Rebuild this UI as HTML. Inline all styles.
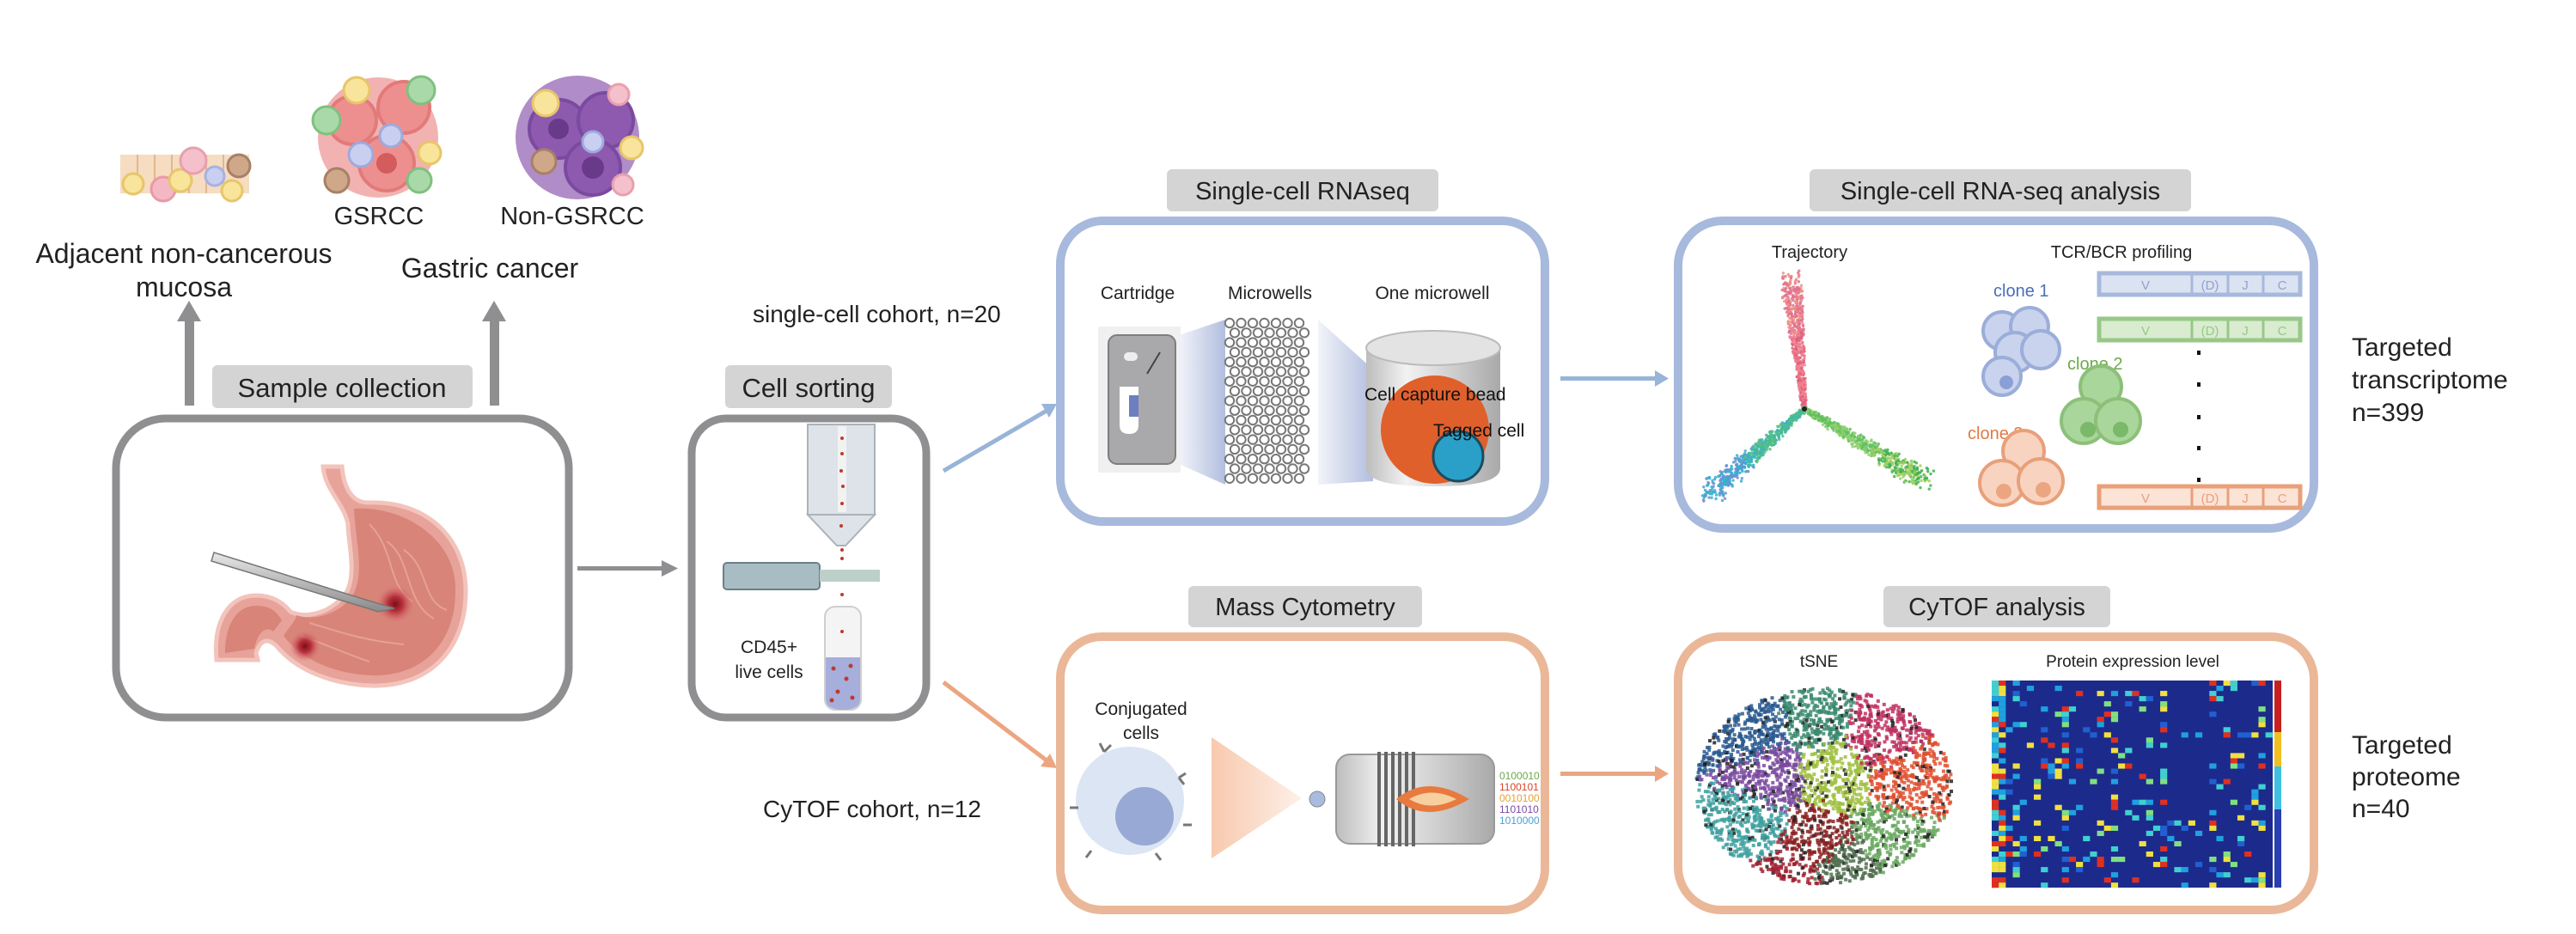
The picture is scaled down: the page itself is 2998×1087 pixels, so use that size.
<!DOCTYPE html>
<html><head><meta charset="utf-8">
<style>
html,body{margin:0;padding:0;background:#fff;}
svg{display:block;}
text{font-family:"Liberation Sans",Arial,sans-serif;}
</style></head>
<body>
<svg id="s" width="2998" height="1087" viewBox="0 0 2998 1087" xmlns="http://www.w3.org/2000/svg">
<defs>
<linearGradient id="metal" x1="0" y1="0" x2="0" y2="1"><stop offset="0" stop-color="#e8e8e8"/><stop offset="0.5" stop-color="#b9b9b9"/><stop offset="1" stop-color="#8a8a8a"/></linearGradient>
<linearGradient id="cyl" x1="0" y1="0" x2="1" y2="0"><stop offset="0" stop-color="#bdbdbd"/><stop offset="0.3" stop-color="#f2f2f2"/><stop offset="1" stop-color="#a9a9a9"/></linearGradient>
<linearGradient id="fun" x1="0" y1="0" x2="1" y2="0"><stop offset="0" stop-color="#f8c9ae"/><stop offset="1" stop-color="#fdf0e8"/></linearGradient>
<linearGradient id="funb" x1="1" y1="0" x2="0" y2="0"><stop offset="0" stop-color="#9eaed6"/><stop offset="1" stop-color="#eef1f8"/></linearGradient>
<radialGradient id="les"><stop offset="0" stop-color="#7a0f1a"/><stop offset="0.4" stop-color="#b8303a"/><stop offset="1" stop-color="#d8757a" stop-opacity="0"/></radialGradient>
</defs>

<g>
 <rect x="140" y="180" width="150" height="45" fill="#f6dcc0"/>
 <g stroke="#e0b890" stroke-width="2"><line x1="160" y1="180" x2="160" y2="225"/><line x1="180" y1="180" x2="180" y2="225"/><line x1="200" y1="180" x2="200" y2="225"/><line x1="220" y1="180" x2="220" y2="225"/><line x1="240" y1="180" x2="240" y2="225"/><line x1="260" y1="180" x2="260" y2="225"/></g>
 <circle cx="155" cy="214" r="12" fill="#f8e49a" stroke="#e7c66a" stroke-width="3"/>
 <circle cx="190" cy="220" r="14" fill="#f4b8c4" stroke="#e89aa8" stroke-width="3"/>
 <circle cx="210" cy="210" r="13" fill="#f8e49a" stroke="#e7c66a" stroke-width="3"/>
 <circle cx="225" cy="187" r="15" fill="#f4c0cc" stroke="#e8a0ae" stroke-width="3"/>
 <circle cx="250" cy="205" r="11" fill="#c8cff0" stroke="#a8b2e0" stroke-width="3"/>
 <circle cx="278" cy="193" r="13" fill="#cfa88a" stroke="#a88066" stroke-width="3"/>
 <circle cx="270" cy="222" r="12" fill="#f8e49a" stroke="#e7c66a" stroke-width="3"/>
</g>
<g>
 <circle cx="440" cy="160" r="70" fill="#f2b2b2"/>
 <circle cx="410" cy="140" r="28" fill="#ee8f8f" stroke="#e27a7a" stroke-width="4"/>
 <circle cx="470" cy="125" r="30" fill="#ee8f8f" stroke="#e27a7a" stroke-width="4"/>
 <circle cx="450" cy="190" r="32" fill="#ee8f8f" stroke="#e27a7a" stroke-width="4"/>
 <circle cx="450" cy="190" r="12" fill="#d45c5c"/>
 <circle cx="380" cy="140" r="16" fill="#a9d9a9" stroke="#80c080" stroke-width="3"/>
 <circle cx="490" cy="105" r="16" fill="#a9d9a9" stroke="#80c080" stroke-width="3"/>
 <circle cx="415" cy="105" r="15" fill="#f8e49a" stroke="#e7c66a" stroke-width="3"/>
 <circle cx="500" cy="178" r="13" fill="#f8e49a" stroke="#e7c66a" stroke-width="3"/>
 <circle cx="420" cy="180" r="14" fill="#c8cff0" stroke="#9fa9dc" stroke-width="3"/>
 <circle cx="455" cy="158" r="13" fill="#c8cff0" stroke="#9fa9dc" stroke-width="3"/>
 <circle cx="392" cy="210" r="14" fill="#cfa88a" stroke="#a88066" stroke-width="3"/>
 <circle cx="488" cy="210" r="14" fill="#a9d9a9" stroke="#80c080" stroke-width="3"/>
</g>
<g>
 <circle cx="672" cy="160" r="72" fill="#b08cc8"/>
 <circle cx="650" cy="150" r="34" fill="#8d5ab0" stroke="#7a4aa0" stroke-width="4"/>
 <circle cx="705" cy="140" r="32" fill="#8d5ab0" stroke="#7a4aa0" stroke-width="4"/>
 <circle cx="690" cy="195" r="32" fill="#8d5ab0" stroke="#7a4aa0" stroke-width="4"/>
 <circle cx="690" cy="195" r="13" fill="#6a3a8a"/>
 <circle cx="650" cy="150" r="12" fill="#6a3a8a"/>
 <circle cx="635" cy="120" r="15" fill="#f8e49a" stroke="#e7c66a" stroke-width="3"/>
 <circle cx="735" cy="172" r="13" fill="#f8e49a" stroke="#e7c66a" stroke-width="3"/>
 <circle cx="690" cy="165" r="12" fill="#c8cff0" stroke="#9fa9dc" stroke-width="3"/>
 <circle cx="633" cy="188" r="14" fill="#cfa88a" stroke="#a88066" stroke-width="3"/>
 <circle cx="720" cy="110" r="12" fill="#f4c0cc" stroke="#e8a0ae" stroke-width="3"/>
 <circle cx="725" cy="215" r="12" fill="#f4c0cc" stroke="#e8a0ae" stroke-width="3"/>
</g>
<text x="441" y="261" font-size="29" text-anchor="middle" fill="#222">GSRCC</text>
<text x="666" y="261" font-size="29" text-anchor="middle" fill="#222">Non-GSRCC</text>
<text x="214" y="306" font-size="32" text-anchor="middle" fill="#222">Adjacent non-cancerous</text>
<text x="214" y="345" font-size="32" text-anchor="middle" fill="#222">mucosa</text>
<text x="570" y="323" font-size="32" text-anchor="middle" fill="#222">Gastric cancer</text>

<g fill="#8f8e90">
 <rect x="215" y="372" width="11" height="100"/><polygon points="206,374 220,350 234,374"/>
 <rect x="570" y="372" width="11" height="100"/><polygon points="561,374 575,350 589,374"/>
</g>

<rect x="135" y="487" width="527" height="348" rx="58" fill="#fff" stroke="#8f8e90" stroke-width="9"/>
<rect x="247" y="425" width="303" height="50" rx="6" fill="#d4d4d5"/>
<text x="398" y="462" font-size="31" text-anchor="middle" fill="#222">Sample collection</text>
<g>
 <path d="M376,543 L398,543 C400,568 410,585 428,585 C495,582 542,625 542,688 C542,760 495,800 432,798 C385,796 345,780 322,752 C312,742 303,744 298,760 L300,768 L252,768 C248,725 265,693 298,693 C318,693 330,702 338,712 C360,722 390,710 404,688 C415,665 405,630 405,610 C400,585 378,570 376,543 Z" fill="#e7a29a" stroke="#f2c4bc" stroke-width="5"/>
 <path d="M412,592 C470,588 532,628 530,688 C530,752 488,788 432,786 C388,784 352,768 330,740 C336,730 345,722 345,716 C368,724 400,712 412,690 C424,665 414,630 412,592 Z" fill="#d98478"/>
 <path d="M262,760 C262,728 275,705 298,705 C315,705 322,712 328,722 L318,735 C310,728 300,735 296,755 Z" fill="#d98478"/>
 <g stroke="#e9a99f" stroke-width="2" fill="none" opacity="0.8">
  <path d="M430,610 C460,640 450,680 480,700"/><path d="M450,630 C480,650 470,700 505,720"/><path d="M350,740 C380,750 400,760 430,770"/><path d="M360,725 C395,735 420,745 470,750"/><path d="M470,640 C500,660 490,700 520,710"/>
 </g>
 <circle cx="460" cy="703" r="22" fill="url(#les)"/>
 <circle cx="355" cy="752" r="18" fill="url(#les)"/>
 <path d="M249,643 L432,700 L459,708 L440,712 L428,708 L246,653 Z" fill="url(#metal)" stroke="#777" stroke-width="1.5"/>
</g>

<rect x="672" y="659" width="100" height="5" fill="#8f8e90"/><polygon points="770,652 789,661.5 770,671" fill="#8f8e90"/>

<rect x="805" y="487" width="273" height="348" rx="40" fill="#fff" stroke="#8f8e90" stroke-width="9"/>
<rect x="844" y="425" width="194" height="50" rx="6" fill="#d4d4d5"/>
<text x="941" y="462" font-size="31" text-anchor="middle" fill="#222">Cell sorting</text>
<g>
 <rect x="940" y="494" width="78" height="105" fill="#dde3e8" stroke="#aab3ba" stroke-width="2"/>
 <polygon points="940,599 1018,599 984,635 974,635" fill="#dde3e8" stroke="#aab3ba" stroke-width="2"/>
 <rect x="975" y="496" width="10" height="100" fill="#f2f2f2"/>
 <g fill="#c0392b"><circle cx="980" cy="510" r="2"/><circle cx="980" cy="528" r="2"/><circle cx="979" cy="548" r="2"/><circle cx="981" cy="566" r="2"/><circle cx="980" cy="586" r="2"/><circle cx="979" cy="612" r="2"/><circle cx="980" cy="640" r="2"/><circle cx="980" cy="650" r="2"/><circle cx="980" cy="692" r="2"/><circle cx="980" cy="712" r="2"/></g>
 <rect x="842" y="655" width="112" height="31" rx="4" fill="#a8bcc4" stroke="#6b7f88" stroke-width="2"/>
 <rect x="954" y="663" width="70" height="14" fill="#bcd0c8"/>
 <rect x="960" y="706" width="42" height="120" rx="12" fill="#f4f4f4" stroke="#cfcfcf" stroke-width="2"/>
 <path d="M961,765 L1001,765 L1001,814 Q1001,826 981,826 Q961,826 961,814 Z" fill="#a6aedb"/>
 <g fill="#c0392b"><circle cx="970" cy="778" r="2.5"/><circle cx="985" cy="790" r="2.5"/><circle cx="975" cy="805" r="2.5"/><circle cx="992" cy="812" r="2.5"/><circle cx="968" cy="815" r="2.5"/><circle cx="990" cy="775" r="2.5"/><circle cx="980" cy="735" r="2"/></g>
 <text x="895" y="760" font-size="21" text-anchor="middle" fill="#222">CD45+</text>
 <text x="895" y="789" font-size="21" text-anchor="middle" fill="#222">live cells</text>
</g>

<text x="876" y="375" font-size="28" fill="#222">single-cell cohort, n=20</text>
<text x="888" y="951" font-size="28" fill="#222">CyTOF cohort, n=12</text>

<line x1="1098" y1="548" x2="1218" y2="478" stroke="#98b4d8" stroke-width="5"/>
<polygon points="1230,470 1212,470 1221,486" fill="#98b4d8"/>
<line x1="1098" y1="794" x2="1218" y2="885" stroke="#eca581" stroke-width="5"/>
<polygon points="1230,894 1222,877 1211,892" fill="#eca581"/>

<rect x="1234" y="257" width="564" height="350" rx="50" fill="#fff" stroke="#a7b9dc" stroke-width="10"/>
<rect x="1358" y="197" width="316" height="49" rx="6" fill="#d4d4d5"/>
<text x="1516" y="232" font-size="29" text-anchor="middle" fill="#222">Single-cell RNAseq</text>
<text x="1324" y="348" font-size="21" text-anchor="middle" fill="#222">Cartridge</text>
<text x="1478" y="348" font-size="21" text-anchor="middle" fill="#222">Microwells</text>
<text x="1667" y="348" font-size="21" text-anchor="middle" fill="#222">One microwell</text>
<polygon points="1372,390 1426,372 1426,564 1372,540" fill="url(#funb)" opacity="0.8"/>
<polygon points="1534,372 1598,430 1598,560 1534,564" fill="url(#funb)" opacity="0.8"/>
<rect x="1278" y="380" width="96" height="170" fill="#f0f0f0"/>
<rect x="1290" y="390" width="78" height="150" rx="10" fill="#a9a9ab" stroke="#7e7e80" stroke-width="2"/>
<rect x="1308" y="410" width="16" height="10" rx="5" fill="#eee"/>
<path d="M1303,450 L1325,450 L1325,495 Q1325,505 1314,505 Q1303,505 1303,495 Z" fill="#fff"/>
<rect x="1314" y="460" width="11" height="25" fill="#6d7fc0"/>
<line x1="1335" y1="435" x2="1350" y2="410" stroke="#444" stroke-width="2"/>
<g id="grid"></g>
<path d="M1590,405 L1590,545 Q1590,566 1668,566 Q1746,566 1746,545 L1746,405 Z" fill="url(#cyl)"/>
<ellipse cx="1668" cy="405" rx="78" ry="20" fill="#e3e3e3" stroke="#bbb" stroke-width="2"/>
<circle cx="1670" cy="500" r="63" fill="#e0602c"/>
<circle cx="1697" cy="531" r="29" fill="#2aa0c8" stroke="#1e4a60" stroke-width="3"/>
<text x="1588" y="466" font-size="21" fill="#111">Cell capture bead</text>
<text x="1668" y="508" font-size="21" fill="#111">Tagged cell</text>

<rect x="1816" y="438" width="112" height="5" fill="#98b4d8"/><polygon points="1926,431 1942,440.5 1926,450" fill="#98b4d8"/>

<rect x="1953" y="257" width="740" height="358" rx="52" fill="#fff" stroke="#a7b9dc" stroke-width="10"/>
<rect x="2106" y="197" width="444" height="49" rx="6" fill="#d4d4d5"/>
<text x="2328" y="232" font-size="29" text-anchor="middle" fill="#222">Single-cell RNA-seq analysis</text>
<text x="2106" y="300" font-size="20" text-anchor="middle" fill="#222">Trajectory</text>
<text x="2469" y="300" font-size="20" text-anchor="middle" fill="#222">TCR/BCR profiling</text>
<g id="traj"></g>
<g font-size="15" text-anchor="middle">
 <rect x="2443" y="318" width="234" height="25" fill="#dbe2f2" stroke="#a7b9dc" stroke-width="5"/>
 <g stroke="#a7b9dc" stroke-width="3"><line x1="2551" y1="318" x2="2551" y2="343"/><line x1="2593" y1="318" x2="2593" y2="343"/><line x1="2634" y1="318" x2="2634" y2="343"/></g>
 <text x="2497" y="337" fill="#8fa3cf">V</text><text x="2572" y="337" fill="#8fa3cf">(D)</text><text x="2613" y="337" fill="#8fa3cf">J</text><text x="2656" y="337" fill="#8fa3cf">C</text>
 <rect x="2443" y="371" width="234" height="25" fill="#d9ecd0" stroke="#98c888" stroke-width="5"/>
 <g stroke="#98c888" stroke-width="3"><line x1="2551" y1="371" x2="2551" y2="396"/><line x1="2593" y1="371" x2="2593" y2="396"/><line x1="2634" y1="371" x2="2634" y2="396"/></g>
 <text x="2497" y="390" fill="#98c888">V</text><text x="2572" y="390" fill="#98c888">(D)</text><text x="2613" y="390" fill="#98c888">J</text><text x="2656" y="390" fill="#98c888">C</text>
 <rect x="2443" y="566" width="234" height="25" fill="#fbe3d6" stroke="#e8a07a" stroke-width="5"/>
 <g stroke="#e8a07a" stroke-width="3"><line x1="2551" y1="566" x2="2551" y2="591"/><line x1="2593" y1="566" x2="2593" y2="591"/><line x1="2634" y1="566" x2="2634" y2="591"/></g>
 <text x="2497" y="585" fill="#e8a07a">V</text><text x="2572" y="585" fill="#e8a07a">(D)</text><text x="2613" y="585" fill="#e8a07a">J</text><text x="2656" y="585" fill="#e8a07a">C</text>
</g>
<g fill="#111"><rect x="2557" y="408" width="4" height="5"/><rect x="2557" y="445" width="4" height="5"/><rect x="2557" y="483" width="4" height="5"/><rect x="2557" y="519" width="4" height="5"/><rect x="2557" y="556" width="4" height="5"/></g>
<text x="2320" y="345" font-size="20" fill="#4a6fb5">clone 1</text>
<text x="2406" y="430" font-size="20" fill="#6aaa4a">clone 2</text>
<text x="2290" y="511" font-size="20" fill="#e07a45">clone 3</text>
<g stroke-width="4">
 <g fill="#c9d3ee" stroke="#9badd8"><circle cx="2330" cy="385" r="22"/><circle cx="2362" cy="380" r="22"/><circle cx="2345" cy="410" r="23"/><circle cx="2375" cy="407" r="22"/><circle cx="2330" cy="438" r="22"/></g>
 <g fill="#a9d69a" stroke="#8cc07a"><circle cx="2445" cy="450" r="24"/><circle cx="2425" cy="490" r="26"/><circle cx="2465" cy="490" r="26"/></g>
 <g fill="#f8d4c0" stroke="#e8a07a"><circle cx="2355" cy="525" r="24"/><circle cx="2330" cy="562" r="26"/><circle cx="2375" cy="560" r="26"/></g>
 <g stroke="none"><circle cx="2335" cy="445" r="8" fill="#8a9fd6"/><circle cx="2430" cy="500" r="9" fill="#7ab86a"/><circle cx="2468" cy="500" r="9" fill="#7ab86a"/><circle cx="2332" cy="572" r="9" fill="#eca581"/><circle cx="2378" cy="570" r="9" fill="#eca581"/></g>
</g>

<text x="2737" y="414" font-size="30" fill="#222">Targeted</text>
<text x="2737" y="452" font-size="30" fill="#222">transcriptome</text>
<text x="2737" y="490" font-size="30" fill="#222">n=399</text>

<rect x="1234" y="741" width="564" height="318" rx="48" fill="#fff" stroke="#eab898" stroke-width="10"/>
<rect x="1383" y="682" width="272" height="48" rx="6" fill="#d4d4d5"/>
<text x="1519" y="716" font-size="29" text-anchor="middle" fill="#222">Mass Cytometry</text>
<text x="1328" y="832" font-size="21" text-anchor="middle" fill="#222">Conjugated</text>
<text x="1328" y="860" font-size="21" text-anchor="middle" fill="#222">cells</text>
<circle cx="1315" cy="932" r="63" fill="#dce5f3"/>
<circle cx="1332" cy="950" r="34" fill="#97a9d4"/>
<g stroke="#777" stroke-width="3" fill="none"><path d="M1285,875 l-5,-10 m5,10 l8,-8"/><path d="M1372,905 l8,-5 m-8,5 l6,8"/><path d="M1255,940 l-10,0"/><path d="M1270,990 l-6,8"/><path d="M1345,993 l6,8"/><path d="M1377,960 l10,0"/></g>
<polygon points="1410,858 1515,929 1410,999" fill="url(#fun)"/>
<circle cx="1533" cy="930" r="9" fill="#a8bce0" stroke="#888" stroke-width="1"/>
<rect x="1555" y="878" width="184" height="104" rx="16" fill="url(#cyl)" stroke="#999" stroke-width="2"/>
<g fill="none" stroke="#666" stroke-width="4"><path d="M1605,875 v110"/><path d="M1613,875 v110"/><path d="M1621,875 v110"/><path d="M1629,875 v110"/><path d="M1637,875 v110"/><path d="M1645,875 v110"/></g>
<path d="M1625,930 Q1660,900 1710,930 Q1660,960 1625,930 Z" fill="#e87a40"/>
<path d="M1640,930 Q1665,915 1695,930 Q1665,945 1640,930 Z" fill="#f7d0a0"/>
<g font-size="12" font-family="Liberation Mono,monospace">
 <text x="1745" y="907" fill="#6aaa4a">0100010</text>
 <text x="1745" y="920" fill="#d9452b">1100101</text>
 <text x="1745" y="933" fill="#e8a030">0010100</text>
 <text x="1745" y="946" fill="#7a4aa0">1101010</text>
 <text x="1745" y="959" fill="#4aa0d8">1010000</text>
</g>

<rect x="1816" y="898" width="112" height="5" fill="#eca581"/><polygon points="1926,891 1942,900.5 1926,910" fill="#eca581"/>

<rect x="1953" y="741" width="740" height="318" rx="50" fill="#fff" stroke="#eab898" stroke-width="10"/>
<rect x="2192" y="682" width="264" height="48" rx="6" fill="#d4d4d5"/>
<text x="2324" y="716" font-size="29" text-anchor="middle" fill="#222">CyTOF analysis</text>
<text x="2117" y="776" font-size="19" text-anchor="middle" fill="#222">tSNE</text>
<text x="2482" y="776" font-size="19" text-anchor="middle" fill="#222">Protein expression level</text>
<g id="tsne"></g>
<rect x="2318" y="792" width="327" height="241" fill="#1c2a8c"/>
<g id="heat"></g>
<rect x="2647" y="792" width="8" height="241" fill="#2a3fb0"/>
<rect x="2647" y="792" width="8" height="60" fill="#c82020"/>
<rect x="2647" y="852" width="8" height="40" fill="#f0c020"/>
<rect x="2647" y="892" width="8" height="50" fill="#40c0e0"/>

<text x="2737" y="877" font-size="30" fill="#222">Targeted</text>
<text x="2737" y="914" font-size="30" fill="#222">proteome</text>
<text x="2737" y="951" font-size="30" fill="#222">n=40</text>
</svg>
<script>
(function(){
var NS="http://www.w3.org/2000/svg";
var seed=7;function r(){seed=(seed*16807)%2147483647;return seed/2147483647;}
function el(p,t,a){var e=document.createElementNS(NS,t);for(var k in a)e.setAttribute(k,a[k]);p.appendChild(e);return e;}
var g=document.getElementById('grid');
for(var y=0;y<17;y++)for(var x=0;x<7;x++){el(g,'circle',{cx:1431+x*13.5+(y%2?6:0),cy:376+y*11.3,r:5.2,fill:'#fff',stroke:'#777','stroke-width':2});}
var t=document.getElementById('traj');
var br=[[2100,476,2085,325,['#e0607a','#f08090'],['#f09080','#e07090']],[2100,476,1990,575,['#40b0c0','#50c080'],['#30b0d0','#7090d0']],[2100,476,2240,560,['#60c060','#90d070'],['#40b050','#a0d060']]];
br.forEach(function(b){for(var i=0;i<600;i++){var f=r();var x=b[0]+(b[2]-b[0])*f+(r()-0.5)*(5+f*20);var y=b[1]+(b[3]-b[1])*f+(r()-0.5)*(5+f*20);var c=f>0.6?b[5]:b[4];el(t,'circle',{cx:x,cy:y,r:1.7,fill:c[Math.floor(r()*2)],opacity:0.85});}});
el(t,'circle',{cx:2100,cy:476,r:3,fill:'#222'});
var s=document.getElementById('tsne');
var cl=[[2040,845,'#2a5a90'],[2110,830,'#3a8a70'],[2190,850,'#c03060'],[2060,900,'#7a4aa0'],[2130,900,'#a0c040'],[2220,905,'#e05030'],[2040,960,'#40a0a0'],[2110,975,'#8a2020'],[2200,975,'#6aa860'],[2150,1010,'#507050'],[2080,1015,'#a02030']];
for(var i=0;i<3200;i++){var a=r()*6.283,d=Math.sqrt(r());var x=2120+Math.cos(a)*d*150,y=913+Math.sin(a)*d*114;var best=0,bd=1e9;for(var k=0;k<cl.length;k++){var dx=x-cl[k][0],dy=y-cl[k][1],dd=dx*dx+dy*dy+r()*1500;if(dd<bd){bd=dd;best=k;}}var col=r()<0.1?'#222':cl[best][2];el(s,'rect',{x:x,y:y,width:4,height:4,fill:col,opacity:0.85});}
var h=document.getElementById('heat');
var hc=['#20a0e0','#40d0d0','#f0e040','#e03020','#2060d0','#80e080'];
for(var cx=0;cx<40;cx++)for(var ry=0;ry<40;ry++){var p=r();var thr=cx<2?0.8:(cx%7==3?0.35:0.12);if(p<thr){el(h,'rect',{x:2318+cx*8.17,y:792+ry*6.03,width:8.2,height:6.1,fill:hc[Math.floor(r()*(cx<2?4:6))]});}}
})();
</script>
</body></html>
